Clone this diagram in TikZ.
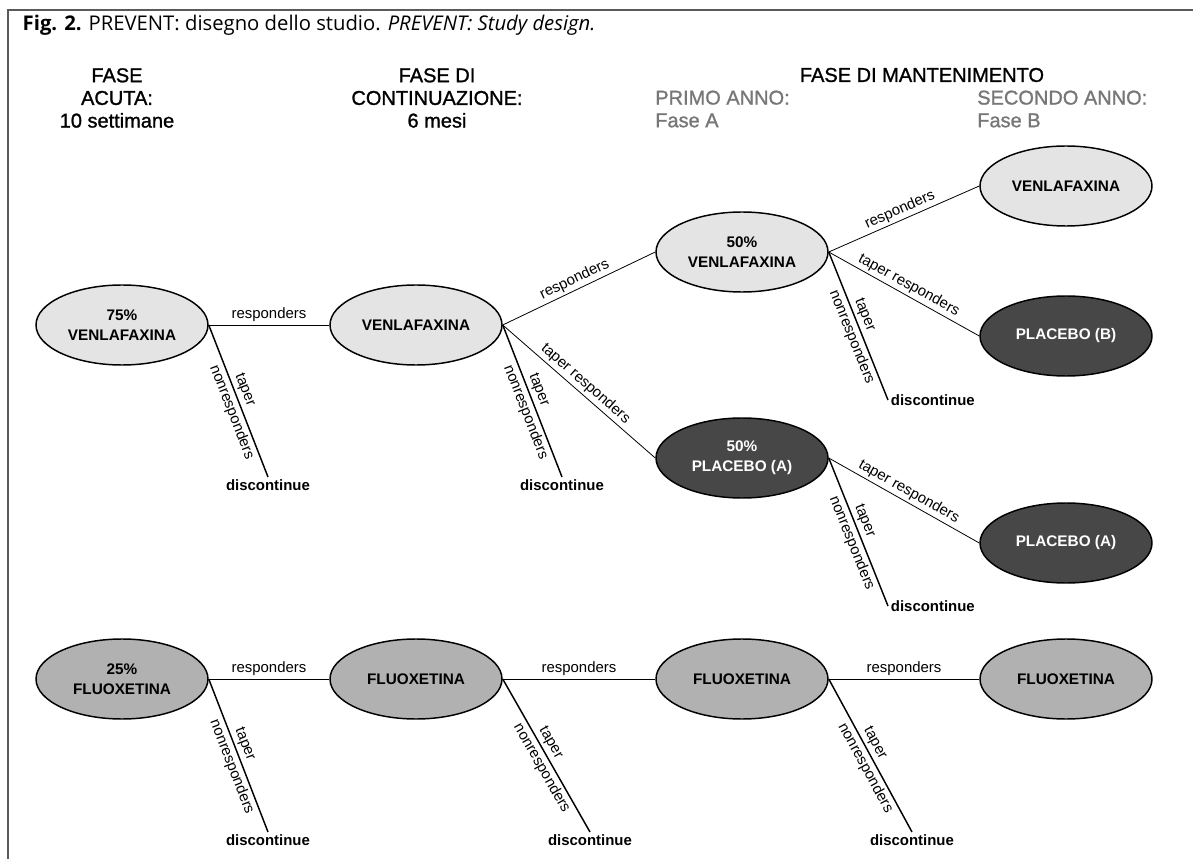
\documentclass[tikz,border=0pt]{standalone}
\usepackage{fontspec}
\setmainfont{Liberation Sans}
\newfontfamily\captionfont{Open Sans}
\newfontfamily\headfont[FakeBold=1.2]{Liberation Sans}
\usetikzlibrary{shapes.geometric,positioning}

\definecolor{venlafill}{HTML}{E4E4E4}
\definecolor{placebofill}{HTML}{474747}
\definecolor{fluoxfill}{HTML}{B1B1B1}
\definecolor{annogray}{HTML}{777777}
\definecolor{framegray}{HTML}{5A5A5A}

\begin{document}
\begin{tikzpicture}[
x=0.75pt, y=-0.75pt,
arm/.style={ellipse, draw, line width=1.1pt, minimum width=129pt, minimum height=60pt, inner sep=0pt, align=center, font=\fontsize{11.5}{15}\selectfont\bfseries},
venla/.style={arm, fill=venlafill},
placebo/.style={arm, fill=placebofill, text=white},
fluox/.style={arm, fill=fluoxfill},
link/.style={line width=0.6pt},
drop/.style={line width=1.1pt},
lab/.style={font=\fontsize{11.2}{13}\selectfont, inner sep=2pt},
disc/.style={font=\fontsize{11.2}{13}\selectfont\bfseries, inner sep=2pt},
head/.style={font=\headfont\fontsize{15}{17}\selectfont, align=center},
anno/.style={font=\headfont\fontsize{15}{17}\selectfont, text=annogray, align=left, anchor=west, inner sep=0pt}
]
\useasboundingbox (0,0) rectangle (1193,859);

% frame and caption
\draw[framegray, line width=1.2pt] (8,859) -- (8,10) -- (1193,10);
\node[anchor=west, font=\captionfont\fontsize{15.2}{17}\selectfont] (caption) at (18,25)
  {\textbf{Fig. 2.} PREVENT: disegno dello studio. \textit{PREVENT: Study design.}};

% phase headers
\node[head] (hacuta) at (117,98) {FASE\\ACUTA:\\10 settimane};
\node[head] (hcont) at (437,98) {FASE DI\\CONTINUAZIONE:\\6 mesi};
\node[head, inner sep=0pt] (hmant) at (922,75) {FASE DI MANTENIMENTO};
\node[anno] (hprimo) at (655,109) {PRIMO ANNO:\\Fase A};
\node[anno] (hsecondo) at (977,109) {SECONDO ANNO:\\Fase B};

% venlafaxina arm
\node[venla] (A1) at (122,325) {75\%\\VENLAFAXINA};
\node[venla] (C1) at (416,325) {VENLAFAXINA};
\node[venla] (M1) at (742,252) {50\%\\VENLAFAXINA};
\node[placebo] (M2) at (742,458) {50\%\\PLACEBO (A)};
\node[venla] (B1) at (1066,186) {VENLAFAXINA};
\node[placebo] (B2) at (1066,336) {PLACEBO (B)};
\node[placebo] (B3) at (1066,543) {PLACEBO (A)};

% fluoxetina arm
\node[fluox] (FA) at (122,679) {25\%\\FLUOXETINA};
\node[fluox] (FC) at (416,679) {FLUOXETINA};
\node[fluox] (FM) at (742,679) {FLUOXETINA};
\node[fluox] (FB) at (1066,679) {FLUOXETINA};

% discontinue
\node[disc, anchor=north] (dA1) at (268,477) {discontinue};
\node[disc, anchor=north] (dC1) at (562,477) {discontinue};
\node[disc, anchor=west] (dM1) at (888,400) {discontinue};
\node[disc, anchor=west] (dM2) at (888,606) {discontinue};
\node[disc, anchor=north] (dFA) at (268,832) {discontinue};
\node[disc, anchor=north] (dFC) at (590,832) {discontinue};
\node[disc, anchor=north] (dFM) at (912,832) {discontinue};

\draw[link] (A1.east) -- node[lab, above] {responders} (C1.west);
\draw[link] (C1.east) -- node[lab, sloped, above] {responders} (M1.west);
\draw[link] (C1.east) -- node[lab, sloped, above] {taper responders} (M2.west);
\draw[link] (M1.east) -- node[lab, sloped, above] {responders} (B1.west);
\draw[link] (M1.east) -- node[lab, sloped, above] {taper responders} (B2.west);
\draw[link] (M2.east) -- node[lab, sloped, above] {taper responders} (B3.west);

\draw[link] (FA.east) -- node[lab, above] {responders} (FC.west);
\draw[link] (FC.east) -- node[lab, above] {responders} (FM.west);
\draw[link] (FM.east) -- node[lab, above] {responders} (FB.west);

\draw[drop] (A1.east) -- node[lab, sloped, above, pos=0.45] {taper} node[lab, sloped, below, pos=0.55] {nonresponders} (dA1.north);
\draw[drop] (C1.east) -- node[lab, sloped, above, pos=0.45] {taper} node[lab, sloped, below, pos=0.55] {nonresponders} (dC1.north);
\draw[drop] (M1.east) -- node[lab, sloped, above, pos=0.45] {taper} node[lab, sloped, below, pos=0.55] {nonresponders} (dM1.west);
\draw[drop] (M2.east) -- node[lab, sloped, above, pos=0.45] {taper} node[lab, sloped, below, pos=0.55] {nonresponders} (dM2.west);
\draw[drop] (FA.east) -- node[lab, sloped, above, pos=0.45] {taper} node[lab, sloped, below, pos=0.55] {nonresponders} (dFA.north);
\draw[drop] (FC.east) -- node[lab, sloped, above, pos=0.45] {taper} node[lab, sloped, below, pos=0.55] {nonresponders} (dFC.north);
\draw[drop] (FM.east) -- node[lab, sloped, above, pos=0.45] {taper} node[lab, sloped, below, pos=0.55] {nonresponders} (dFM.north);

\end{tikzpicture}
\end{document}
